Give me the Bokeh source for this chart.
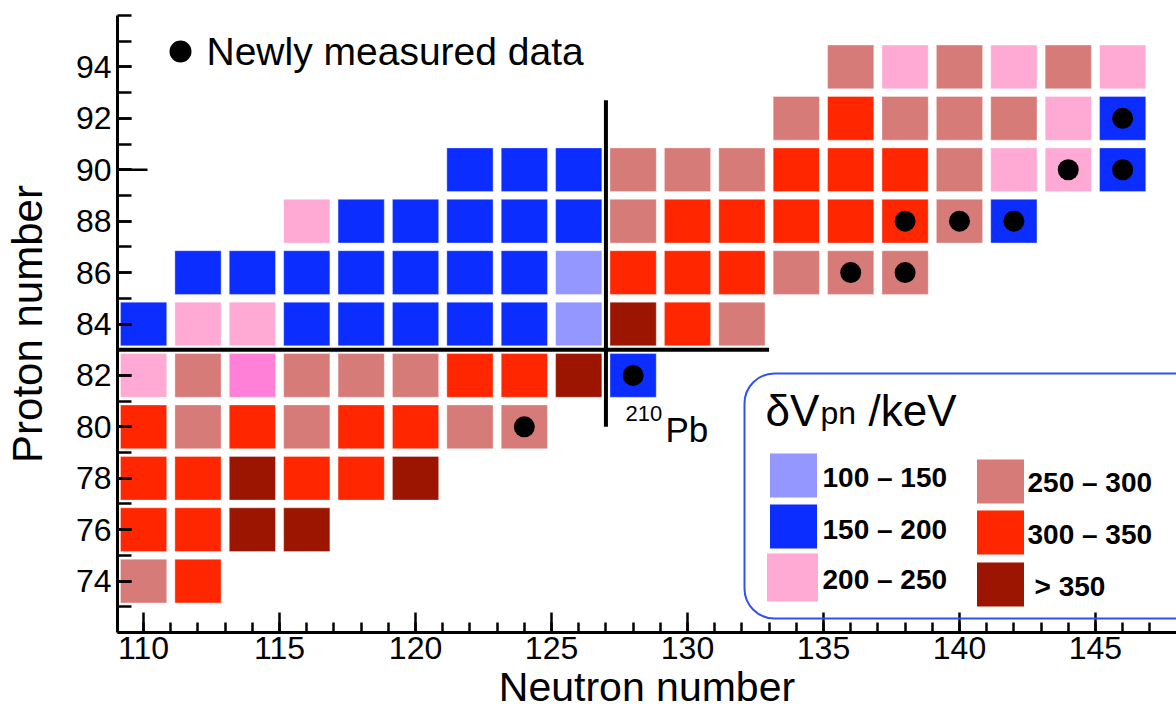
from bokeh.plotting import figure
from bokeh.models import FixedTicker, Label, BoxAnnotation, ColumnDataSource, Range1d
from bokeh.embed import file_html
from bokeh.resources import INLINE

# ---------------- data ----------------
bin_names = ["100-150", "150-200", "200-250", "250-300", "300-350", ">350", "200-250b"]
bin_colors = ["#9497ff", "#0b2dff", "#ffaad4", "#d77b78", "#ff2600", "#9c1500", "#ff80d6"]
legend_bins = ["100-150", "150-200", "200-250", "250-300", "300-350", ">350"]
legend_texts = ["100 \u2013 150", "150 \u2013 200", "200 \u2013 250",
                "250 \u2013 300", "300 \u2013 350", "> 350"]

L, B, P, S, R, D, M = bin_names

cell_n = [110, 112,
          110, 112, 114, 116,
          110, 112, 114, 116, 118, 120,
          110, 112, 114, 116, 118, 120, 122, 124,
          110, 112, 114, 116, 118, 120, 122, 124, 126, 128,
          110, 112, 114, 116, 118, 120, 122, 124, 126, 128, 130, 132,
          112, 114, 116, 118, 120, 122, 124, 126, 128, 130, 132, 134, 136, 138,
          116, 118, 120, 122, 124, 126, 128, 130, 132, 134, 136, 138, 140, 142,
          122, 124, 126, 128, 130, 132, 134, 136, 138, 140, 142, 144, 146,
          134, 136, 138, 140, 142, 144, 146,
          136, 138, 140, 142, 144, 146]
cell_z = ([74] * 2 + [76] * 4 + [78] * 6 + [80] * 8 + [82] * 10 + [84] * 12 +
          [86] * 14 + [88] * 14 + [90] * 13 + [92] * 7 + [94] * 6)
cell_bin = [S, R,
            R, R, D, D,
            R, R, D, R, R, D,
            R, S, R, S, R, R, S, S,
            P, S, M, S, S, S, R, R, D, B,
            B, P, P, B, B, B, B, B, L, D, R, S,
            B, B, B, B, B, B, B, L, R, R, R, S, S, S,
            P, B, B, B, B, B, S, R, R, R, R, R, S, B,
            B, B, B, S, S, S, R, R, R, S, P, P, B,
            S, R, S, S, S, P, B,
            S, P, S, P, S, P]

new_n = [124, 128, 136, 138, 138, 140, 142, 144, 146, 146]
new_z = [80, 82, 86, 86, 88, 88, 88, 90, 90, 92]

x_major = [110, 115, 120, 125, 130, 135, 140, 145]
x_minor = list(range(109, 149))
y_major = [74, 76, 78, 80, 82, 84, 86, 88, 90, 92, 94]
y_minor = list(range(72, 97))
y_long_ticks = [80, 90]

shell_z = 83      # line between Z=82 and Z=84
shell_n = 127     # line between N=126 and N=128

# ---------------- geometry ----------------
W, H = 1176, 722
FL, FT, FB = 117, 15, 632
X0, X1 = 109.04, 147.98
Y0, Y1 = 72, 96
KX = (W - FL) / (X1 - X0)
KY = (FB - FT) / (Y1 - Y0)


def dx(px):
    return X0 + (px - FL) / KX


def dy(py):
    return Y1 - (py - FT) / KY


FONT = "Liberation Sans"

p = figure(width=W, height=H, x_range=Range1d(X0, X1), y_range=Range1d(Y0, Y1),
           output_backend="svg", toolbar_location=None,
           min_border_left=FL, min_border_right=0, min_border_top=FT,
           min_border_bottom=H - FB)
p.outline_line_color = None
p.grid.visible = False
p.background_fill_color = "white"
p.border_fill_color = "white"


def lab(px, py, text, size, bold=False):
    # py is the wanted baseline in pixels; compensate renderer baseline offset
    p.add_layout(Label(x=dx(px), y=dy(py - 0.4 * size), text=text, text_font=FONT,
                       text_font_size=f"{size}px",
                       text_font_style="bold" if bold else "normal",
                       text_baseline="alphabetic", text_color="black"))


# axes
for ax in (p.xaxis[0], p.yaxis[0]):
    ax.axis_line_width = 3
    ax.axis_line_color = "black"
    ax.major_tick_out = 0
    ax.minor_tick_out = 0
    ax.major_tick_line_width = 2.5
    ax.minor_tick_line_width = 2.5
    ax.major_tick_line_color = "black"
    ax.minor_tick_line_color = "black"
    ax.major_label_text_font = FONT
    ax.major_label_text_font_size = "32px"
    ax.major_label_text_color = "black"
    ax.axis_label_text_font = FONT
    ax.axis_label_text_font_style = "normal"
    ax.axis_label_text_color = "black"

p.xaxis.ticker = FixedTicker(ticks=x_major, minor_ticks=x_minor)
p.xaxis.major_tick_in = 20
p.xaxis.minor_tick_in = 10
p.xaxis.major_label_standoff = 4
p.xaxis.axis_label = "Neutron number"
p.xaxis.axis_label_text_font_size = "41px"
p.xaxis.axis_label_standoff = 2

p.yaxis.ticker = FixedTicker(ticks=y_major, minor_ticks=y_minor)
p.yaxis.major_tick_in = 14
p.yaxis.minor_tick_in = 14
p.yaxis.major_label_standoff = 6
p.yaxis.axis_label = "Proton number"
p.yaxis.axis_label_text_font_size = "42px"
p.yaxis.axis_label_standoff = 22

# long ticks on y axis
p.segment(x0=[X0] * len(y_long_ticks), x1=[dx(FL + 30)] * len(y_long_ticks),
          y0=y_long_ticks, y1=y_long_ticks, line_width=2.5, line_color="black")

# cells
cmap = dict(zip(bin_names, bin_colors))
src = ColumnDataSource(dict(n=cell_n, z=cell_z, b=cell_bin,
                            c=[cmap[b] for b in cell_bin]))
p.rect(x="n", y="z", width=1.7, height=1.7, fill_color="c",
       line_color="white", line_alpha=0.35, line_width=1, source=src)

# new measurements
p.scatter(x=new_n, y=new_z, size=21, marker="circle", fill_color="black", line_color=None)

# shell closure lines
p.segment(x0=[X0], x1=[133], y0=[shell_z], y1=[shell_z], line_width=4, line_color="black")
p.segment(x0=[shell_n], x1=[shell_n], y0=[80], y1=[92.7], line_width=4, line_color="black")

# 210Pb label
lab(625, 422, "210", 22)
lab(665, 443, "Pb", 35)

# "Newly measured data" key
p.scatter(x=[dx(180)], y=[dy(51)], size=22, marker="circle", fill_color="black", line_color=None)
lab(206, 67, "Newly measured data", 39)

# legend box
p.add_layout(BoxAnnotation(left=dx(744), right=dx(1215), top=dy(373), bottom=dy(618),
                           fill_color=None, fill_alpha=0, line_color="#3050f0",
                           line_alpha=1, line_width=2, border_radius=30))
lab(765, 428, "\u03b4V", 44)
lab(820, 425, "pn", 32)
lab(868, 428, "/keV", 44)

sw_px_x = [793, 793, 792, 1000, 1000, 1000]
sw_px_y = [475, 526, 577, 481, 532, 584]
sw_w = [47, 47, 51, 47, 47, 47]
sw_h = [44, 44, 48, 44, 44, 44]
lab_px_x = [822, 822, 822, 1027, 1027, 1034]
lab_px_y = [488, 540, 590, 493, 545, 597]

p.rect(x=[dx(v) for v in sw_px_x], y=[dy(v) for v in sw_px_y],
       width=sw_w, height=sw_h, width_units="screen", height_units="screen",
       fill_color=[cmap[b] for b in legend_bins], line_color=None)
for t, lx, ly in zip(legend_texts, lab_px_x, lab_px_y):
    lab(lx, ly, t, 28, bold=True)

open("out.html", "w").write(file_html(p, INLINE))
